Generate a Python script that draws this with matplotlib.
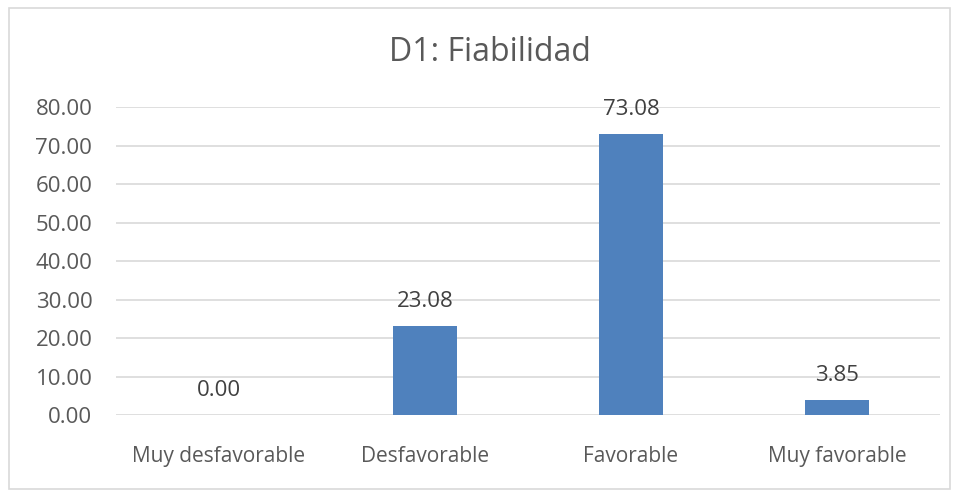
import matplotlib.pyplot as plt
from matplotlib.patches import Rectangle

categories = ['Muy desfavorable', 'Desfavorable', 'Favorable', 'Muy favorable']
values = [0.00, 23.08, 73.08, 3.85]
yticks = [0, 10, 20, 30, 40, 50, 60, 70, 80]

plt.rcParams['font.family'] = ['Open Sans', 'DejaVu Sans']
txt = '#595959'

fig = plt.figure(figsize=(9.56, 4.93), dpi=100)
fig.patches.append(Rectangle((0.009, 0.008), 0.985, 0.975, transform=fig.transFigure,
                             fill=False, edgecolor='#d9d9d9', linewidth=1.2))
ax = fig.add_axes([0.1213, 0.1582, 0.862, 0.6247])

x = range(len(categories))
bars = ax.bar(x, values, width=0.31, color='#4f81bd', zorder=3)
for b, v in zip(bars, values):
    ax.annotate('%.2f' % v, (b.get_x() + b.get_width() / 2, v), xytext=(0, 10),
                textcoords='offset points', ha='center', va='bottom',
                fontsize=16, color='#404040', zorder=4)

ax.set_xlim(-0.5, 3.5)
ax.set_ylim(0, 80)
ax.set_yticks(yticks)
ax.set_yticklabels(['%.2f' % t for t in yticks])
ax.set_xticks(list(x))
ax.set_xticklabels(categories)
ax.tick_params(axis='both', length=0, colors=txt)
ax.tick_params(axis='y', pad=17, labelsize=16)
ax.tick_params(axis='x', pad=22, labelsize=15)
ax.yaxis.grid(True, color='#d9d9d9', linewidth=1.2, zorder=0)
for s in ax.spines.values():
    s.set_visible(False)

fig.text(0.512, 0.893, 'D1: Fiabilidad', ha='center', va='center', fontsize=23, color=txt)

fig.savefig('out.png', dpi=100)
